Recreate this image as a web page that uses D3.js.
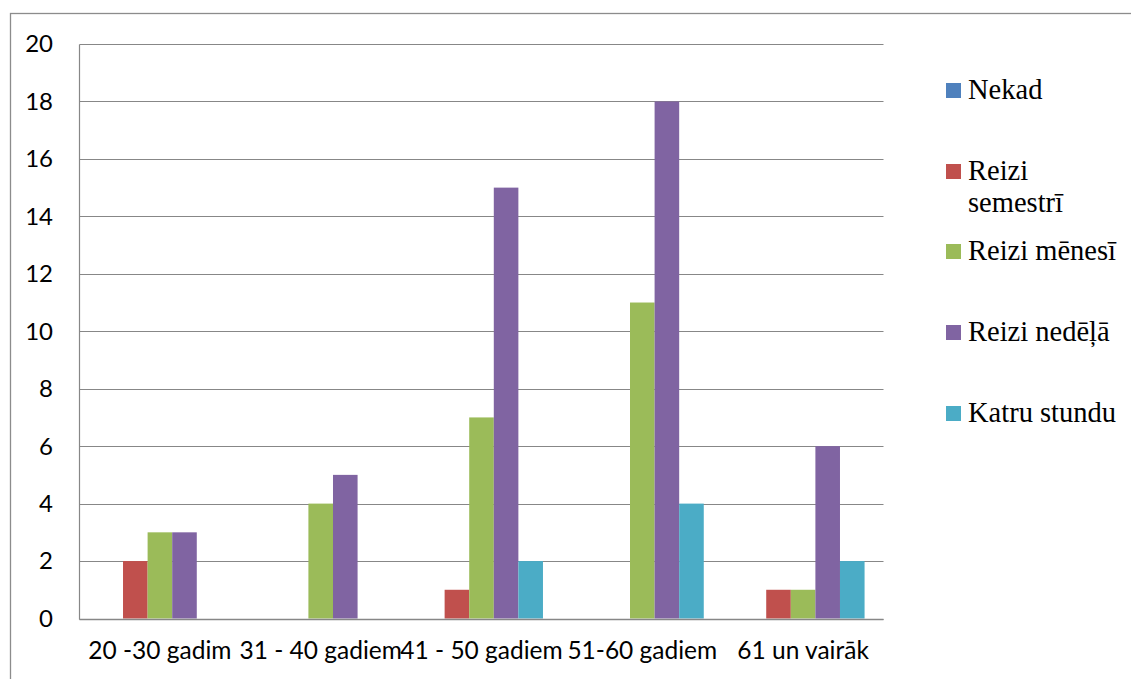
<!DOCTYPE html>
<html>
<head>
<meta charset="utf-8">
<script src="https://cdn.jsdelivr.net/npm/d3@7/dist/d3.min.js"></script>
<style>
  html, body { margin: 0; padding: 0; background: #fff; }
  svg { display: block; }
</style>
</head>
<body>
<script>
// Age groups along the x axis
const categories = ["20 -30 gadim", "31 - 40 gadiem", "41 - 50 gadiem", "51-60 gadiem", "61 un vairāk"];
// Frequency answers (legend series)
const seriesNames = ["Nekad", "Reizi semestrī", "Reizi mēnesī", "Reizi nedēļā", "Katru stundu"];
const seriesColors = ["#4F81BD", "#C0504D", "#9BBB59", "#8064A2", "#4BACC6"];
// Counts per series, one value per age group
const nekad        = [0, 0, 0, 0, 0];
const reiziSem     = [2, 0, 1, 0, 1];
const reiziMen     = [3, 4, 7, 11, 1];
const reiziNed     = [3, 5, 15, 18, 6];
const katruStundu  = [0, 0, 2, 4, 2];
const yTicks = [0, 2, 4, 6, 8, 10, 12, 14, 16, 18, 20];

const seriesValues = [nekad, reiziSem, reiziMen, reiziNed, katruStundu];

const W = 1131, H = 679;
const plot = { left: 79.5, right: 883.5, top: 44, bottom: 618.5 };

const svg = d3.select("body").append("svg").attr("width", W).attr("height", H);

// outer chart frame
svg.append("rect")
  .attr("x", 10.5).attr("y", 13.5)
  .attr("width", W + 20).attr("height", H + 20)
  .attr("fill", "none").attr("stroke", "#8c8c8c").attr("stroke-width", 1.3);

const x0 = d3.scaleBand().domain(categories).range([plot.left, plot.right]).padding(0);
const x1 = d3.scaleBand().domain(seriesNames).range([0, x0.bandwidth()]).paddingInner(0).paddingOuter(0.77);
const y = d3.scaleLinear().domain([0, 20]).range([plot.bottom, plot.top]);

// horizontal gridlines
svg.append("g").selectAll("line").data(yTicks).join("line")
  .attr("x1", plot.left).attr("x2", plot.right)
  .attr("y1", d => Math.round(y(d)) + 0.5).attr("y2", d => Math.round(y(d)) + 0.5)
  .attr("stroke", "#878787").attr("stroke-width", 1.2);

// bars
const groups = svg.append("g").selectAll("g").data(categories).join("g")
  .attr("transform", c => `translate(${x0(c)},0)`);
groups.selectAll("rect")
  .data((c, ci) => seriesNames.map((s, si) => ({ s, si, v: seriesValues[si][ci] })))
  .join("rect")
  .attr("x", d => x1(d.s))
  .attr("width", x1.bandwidth())
  .attr("y", d => y(d.v))
  .attr("height", d => y(0) - y(d.v))
  .attr("fill", d => seriesColors[d.si]);

// y axis line and bottom axis line
svg.append("line").attr("x1", plot.left).attr("x2", plot.left)
  .attr("y1", Math.round(y(20)) + 0.5).attr("y2", Math.round(y(0)) + 0.5)
  .attr("stroke", "#878787").attr("stroke-width", 1.2);
svg.append("line").attr("x1", plot.left).attr("x2", plot.right)
  .attr("y1", Math.round(y(0)) + 0.5).attr("y2", Math.round(y(0)) + 0.5)
  .attr("stroke", "#878787").attr("stroke-width", 1.6);

// y tick labels
svg.append("g").selectAll("text").data(yTicks).join("text")
  .attr("x", 53).attr("y", d => y(d))
  .attr("dy", "0.35em")
  .attr("text-anchor", "end")
  .attr("font-family", "Lato, 'Open Sans', sans-serif")
  .attr("font-size", 24)
  .attr("fill", "#000")
  .text(d => d);

// category labels
svg.append("g").selectAll("text").data(categories).join("text")
  .attr("x", c => x0(c) + x0.bandwidth() / 2)
  .attr("y", 659)
  .attr("text-anchor", "middle")
  .attr("font-family", "Lato, 'Open Sans', sans-serif")
  .attr("font-size", 24.5)
  .attr("fill", "#000")
  .text(c => c);

// legend
const legendY = [90.5, 171.5, 251.5, 332.5, 413.5];
const legendLines = [["Nekad"], ["Reizi", "semestrī"], ["Reizi mēnesī"], ["Reizi nedēļā"], ["Katru stundu"]];
const lg = svg.append("g").selectAll("g").data(seriesNames).join("g");
lg.append("rect")
  .attr("x", 946).attr("y", (d, i) => legendY[i] - 7.5)
  .attr("width", 15).attr("height", 15)
  .attr("fill", (d, i) => seriesColors[i]);
lg.append("text")
  .attr("x", 968).attr("y", (d, i) => legendY[i] + 8.5)
  .attr("font-family", "'Liberation Serif', 'Times New Roman', serif")
  .attr("font-size", 28.5)
  .attr("fill", "#000")
  .selectAll("tspan").data((d, i) => legendLines[i]).join("tspan")
  .attr("x", 968)
  .attr("dy", (t, j) => j === 0 ? 0 : 32)
  .text(t => t);
</script>
</body>
</html>
